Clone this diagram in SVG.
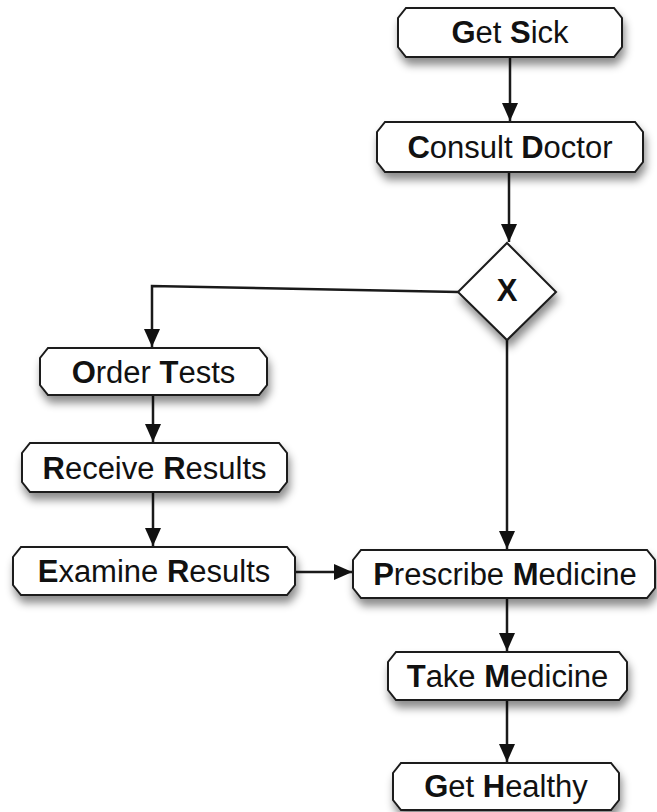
<svg xmlns="http://www.w3.org/2000/svg" width="657" height="812" viewBox="0 0 657 812">
<style>
.node{fill:#fff;stroke:#1a1a1a;stroke-width:2;filter:url(#sh)}
.lbl{font-family:"Liberation Sans",Arial,sans-serif;font-size:31px;fill:#111;text-anchor:middle}
.b{font-weight:bold}
.edge{fill:none;stroke:#1a1a1a;stroke-width:2.5}
</style>
<defs>
<filter id="sh" x="-20%" y="-30%" width="140%" height="190%">
<feDropShadow dx="2" dy="7" stdDeviation="4" flood-color="#000" flood-opacity="0.45"/>
</filter>
<marker id="ah" markerUnits="userSpaceOnUse" markerWidth="16" markerHeight="20" viewBox="0 0 16 20" refX="18" refY="8" orient="auto">
<path d="M0,0 L18,8 L0,16 Z" fill="#111"/>
</marker>
</defs>
<g id="connectors">
<path class="edge" d="M510,57 V121" marker-end="url(#ah)"/>
<path class="edge" d="M509,172 V242" marker-end="url(#ah)"/>
<path class="edge" d="M458,292 L152,286 V347" marker-end="url(#ah)"/>
<path class="edge" d="M507,340 V549" marker-end="url(#ah)"/>
<path class="edge" d="M153,395 V442" marker-end="url(#ah)"/>
<path class="edge" d="M153,492 V546" marker-end="url(#ah)"/>
<path class="edge" d="M295,572 H352" marker-end="url(#ah)"/>
<path class="edge" d="M507,598 V651" marker-end="url(#ah)"/>
<path class="edge" d="M507,700 V762" marker-end="url(#ah)"/>
</g>
<g id="get-sick">
<path class="node" d="M406,8 H614 L622,18 V47 L614,57 H406 L398,47 V18 Z"/>
<text class="lbl" x="510" y="43"><tspan class="b">G</tspan>et <tspan class="b">S</tspan>ick</text>
</g>
<g id="consult-doctor">
<path class="node" d="M385,122 H635 L643,132 V162 L635,172 H385 L377,162 V132 Z"/>
<text class="lbl" x="510" y="158"><tspan class="b">C</tspan>onsult <tspan class="b">D</tspan>octor</text>
</g>
<g id="decision">
<path class="node" d="M507,243 L556,292 L507,340 L458,292 Z"/>
<text class="lbl b" x="507" y="301">X</text>
</g>
<g id="order-tests">
<path class="node" d="M48,348 H259 L267,358 V385 L259,395 H48 L40,385 V358 Z"/>
<text class="lbl" x="153.5" y="383"><tspan class="b">O</tspan>rder <tspan class="b">T</tspan>ests</text>
</g>
<g id="receive-results">
<path class="node" d="M30,443 H279 L287,453 V482 L279,492 H30 L22,482 V453 Z"/>
<text class="lbl" x="154.5" y="479"><tspan class="b">R</tspan>eceive <tspan class="b">R</tspan>esults</text>
</g>
<g id="examine-results">
<path class="node" d="M21,547 H287 L295,557 V585 L287,595 H21 L13,585 V557 Z"/>
<text class="lbl" x="154" y="582"><tspan class="b">E</tspan>xamine <tspan class="b">R</tspan>esults</text>
</g>
<g id="prescribe-medicine">
<path class="node" d="M361,550 H647 L655,560 V588 L647,598 H361 L353,588 V560 Z"/>
<text class="lbl" x="505" y="585"><tspan class="b">P</tspan>rescribe <tspan class="b">M</tspan>edicine</text>
</g>
<g id="take-medicine">
<path class="node" d="M396,652 H619 L627,662 V690 L619,700 H396 L388,690 V662 Z"/>
<text class="lbl" x="507.5" y="687"><tspan class="b">T</tspan>ake <tspan class="b">M</tspan>edicine</text>
</g>
<g id="get-healthy">
<path class="node" d="M401,763 H611 L619,773 V800 L611,810 H401 L393,800 V773 Z"/>
<text class="lbl" x="506" y="797"><tspan class="b">G</tspan>et <tspan class="b">H</tspan>ealthy</text>
</g>
</svg>
